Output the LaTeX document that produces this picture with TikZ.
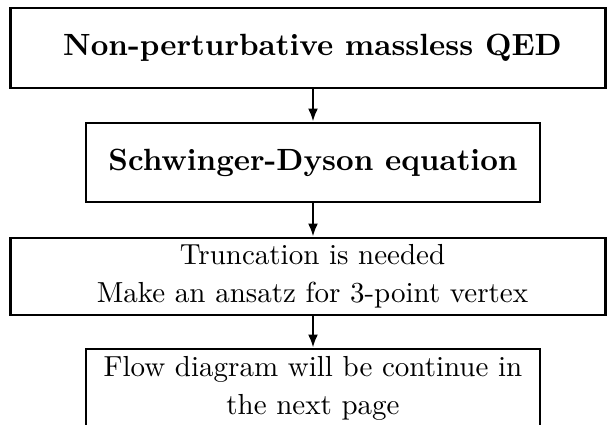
\documentclass[tikz,border=0pt]{standalone}
\usepackage{fontspec}
% ten-point design size, magnified
\setmainfont{lmroman10-regular}[Extension=.otf, BoldFont=lmroman10-bold]
\usetikzlibrary{arrows.meta}

\begin{document}
\begin{tikzpicture}[x=1pt,y=1pt,
    frame/.style={draw, line width=2.8pt, inner sep=0pt, align=center},
    headline/.style={frame, font=\fontsize{30.7}{38}\selectfont\bfseries},
    plainbox/.style={frame, font=\fontsize{29}{38}\selectfont},
    flow/.style={line width=2.4pt, -{Latex[length=13pt,width=10pt]}}]
  % page area; anything past its edges is cut away
  \clip (0,0) rectangle (607,425);
  \useasboundingbox (0,0) rectangle (607,425);

  \node[headline, minimum width=595pt, minimum height=80pt] (qed) at (308,377)
    {\hspace*{9pt}Non-perturbative massless QED};
  \node[headline, minimum width=454pt, minimum height=79pt] (sd) at (313,262.5)
    {Schwinger-Dyson equation};
  \node[plainbox, minimum width=595pt, minimum height=77pt] (trunc) at (308,148.5)
    {\hspace*{9pt}Truncation is needed\\\hspace*{9pt}Make an ansatz for 3-point vertex};
  % the last box runs on past the bottom edge of the page
  \node[plainbox, minimum width=454pt, minimum height=78pt] (next) at (313,37)
    {Flow diagram will be continue in\\the next page};

  \draw[flow] (sd.north |- qed.south) -- (sd.north);
  \draw[flow] (sd.south) -- (sd.south |- trunc.north);
  \draw[flow] (next.north |- trunc.south) -- (next.north);
\end{tikzpicture}
\end{document}
